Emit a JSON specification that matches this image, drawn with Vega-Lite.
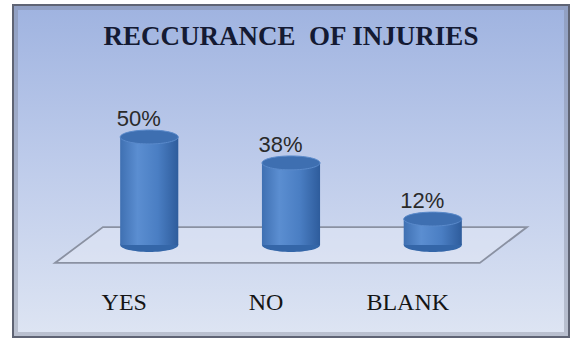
{
  "$schema": "https://vega.github.io/schema/vega-lite/v6.json",
  "width": 558,
  "height": 334,
  "autosize": {"type": "none"},
  "padding": {"left": 12, "top": 4, "right": 9, "bottom": 6},
  "background": "#ffffff",
  "config": {"view": {"stroke": null}},
  "title": {
    "text": "RECCURANCE\u00a0 OF INJURIES",
    "font": "Liberation Serif",
    "fontSize": 27,
    "fontWeight": "bold",
    "color": "#141a33",
    "anchor": "middle",
    "baseline": "alphabetic",
    "offset": 0,
    "dx": 0,
    "dy": 68
  },
  "data": {
    "values": [
      {"answer": "YES", "share": 0.50},
      {"answer": "NO", "share": 0.38},
      {"answer": "BLANK", "share": 0.12}
    ]
  },
  "encoding": {
    "x": {"field": "answer", "type": "nominal", "axis": null,
          "scale": {"type": "band", "domain": ["YES", "NO", "BLANK"], "paddingInner": 0.59, "paddingOuter": 0.763}}
  },
  "layer": [
    {
      "data": {"values": [{}]},
      "mark": {
        "type": "rect",
        "fill": {
          "gradient": "linear", "x1": 0, "y1": 0, "x2": 0, "y2": 1,
          "stops": [
            {"offset": 0, "color": "#9fb3e0"},
            {"offset": 0.45, "color": "#bccaea"},
            {"offset": 1, "color": "#dee5f3"}
          ]
        }
      },
      "encoding": {
        "x": {"value": 0}, "x2": {"value": "width"},
        "y": {"value": 0}, "y2": {"value": "height"}
      }
    },
    {
      "data": {"values": [{}]},
      "mark": {"type": "rect", "fill": null, "stroke": "#767b8c", "strokeOpacity": 0.35, "strokeWidth": 6, "xOffset": 3, "x2Offset": -3, "yOffset": 3, "y2Offset": -3},
      "encoding": {
        "x": {"value": 0}, "x2": {"value": "width"},
        "y": {"value": 0}, "y2": {"value": "height"}
      }
    },
    {
      "data": {"values": [{}]},
      "mark": {"type": "rect", "fill": null, "stroke": "#5f6474", "strokeWidth": 2, "xOffset": 1, "x2Offset": -1, "yOffset": 1, "y2Offset": -1},
      "encoding": {
        "x": {"value": 0}, "x2": {"value": "width"},
        "y": {"value": 0}, "y2": {"value": "height"}
      }
    },
    {
      "transform": [{"filter": "datum.answer === 'NO'"}],
      "mark": {
        "type": "point",
        "shape": "M-1,0.076L0.8,0.076L1,-0.076L-0.797,-0.076Z",
        "size": 222784,
        "filled": true,
        "fill": "#e6ecf7",
        "fillOpacity": 0.45,
        "stroke": "#8a91a2",
        "strokeWidth": 1.8,
        "opacity": 1
      },
      "encoding": {
        "y": {"datum": 0, "type": "quantitative", "axis": null,
              "scale": {"domain": [-0.4306, 1.1157], "nice": false, "zero": false}}
      }
    },
    {
      "mark": {
        "type": "point",
        "shape": "M-1,0A1,0.24 0 1,0 1,0A1,0.24 0 1,0 -1,0Z",
        "size": 3364,
        "filled": true,
        "fill": "#3466a8",
        "opacity": 1
      },
      "encoding": {
        "y": {"datum": 0, "type": "quantitative", "axis": null,
              "scale": {"domain": [-0.4306, 1.1157], "nice": false, "zero": false}}
      }
    },
    {
      "mark": {
        "type": "bar",
        "fill": {
          "gradient": "linear", "x1": 0, "y1": 0, "x2": 1, "y2": 0,
          "stops": [
            {"offset": 0, "color": "#3f70b2"},
            {"offset": 0.3, "color": "#5b8ed1"},
            {"offset": 0.65, "color": "#4a7ec3"},
            {"offset": 1, "color": "#2e5c9c"}
          ]
        }
      },
      "encoding": {
        "y": {"field": "share", "type": "quantitative", "axis": null,
              "scale": {"domain": [-0.4306, 1.1157], "nice": false, "zero": false}},
        "y2": {"datum": 0}
      }
    },
    {
      "mark": {
        "type": "point",
        "shape": "M-1,0A1,0.24 0 1,0 1,0A1,0.24 0 1,0 -1,0Z",
        "size": 3364,
        "filled": true,
        "fill": "#3e6fb1",
        "stroke": "#5a8acb",
        "strokeWidth": 1,
        "opacity": 1
      },
      "encoding": {
        "y": {"field": "share", "type": "quantitative", "axis": null,
              "scale": {"domain": [-0.4306, 1.1157], "nice": false, "zero": false}}
      }
    },
    {
      "mark": {
        "type": "text",
        "font": "Liberation Sans",
        "fontSize": 22,
        "color": "#2a2a2a",
        "baseline": "alphabetic",
        "align": "center",
        "dx": -10.5,
        "dy": -11
      },
      "encoding": {
        "y": {"field": "share", "type": "quantitative", "axis": null,
              "scale": {"domain": [-0.4306, 1.1157], "nice": false, "zero": false}},
        "text": {"field": "share", "type": "quantitative", "format": ".0%"}
      }
    },
    {
      "mark": {
        "type": "text",
        "font": "Liberation Serif",
        "fontSize": 24,
        "color": "#151515",
        "baseline": "alphabetic",
        "align": "center",
        "dx": -25
      },
      "encoding": {
        "y": {"datum": -0.30, "type": "quantitative", "axis": null,
              "scale": {"domain": [-0.4306, 1.1157], "nice": false, "zero": false}},
        "text": {"field": "answer", "type": "nominal"}
      }
    }
  ]
}
